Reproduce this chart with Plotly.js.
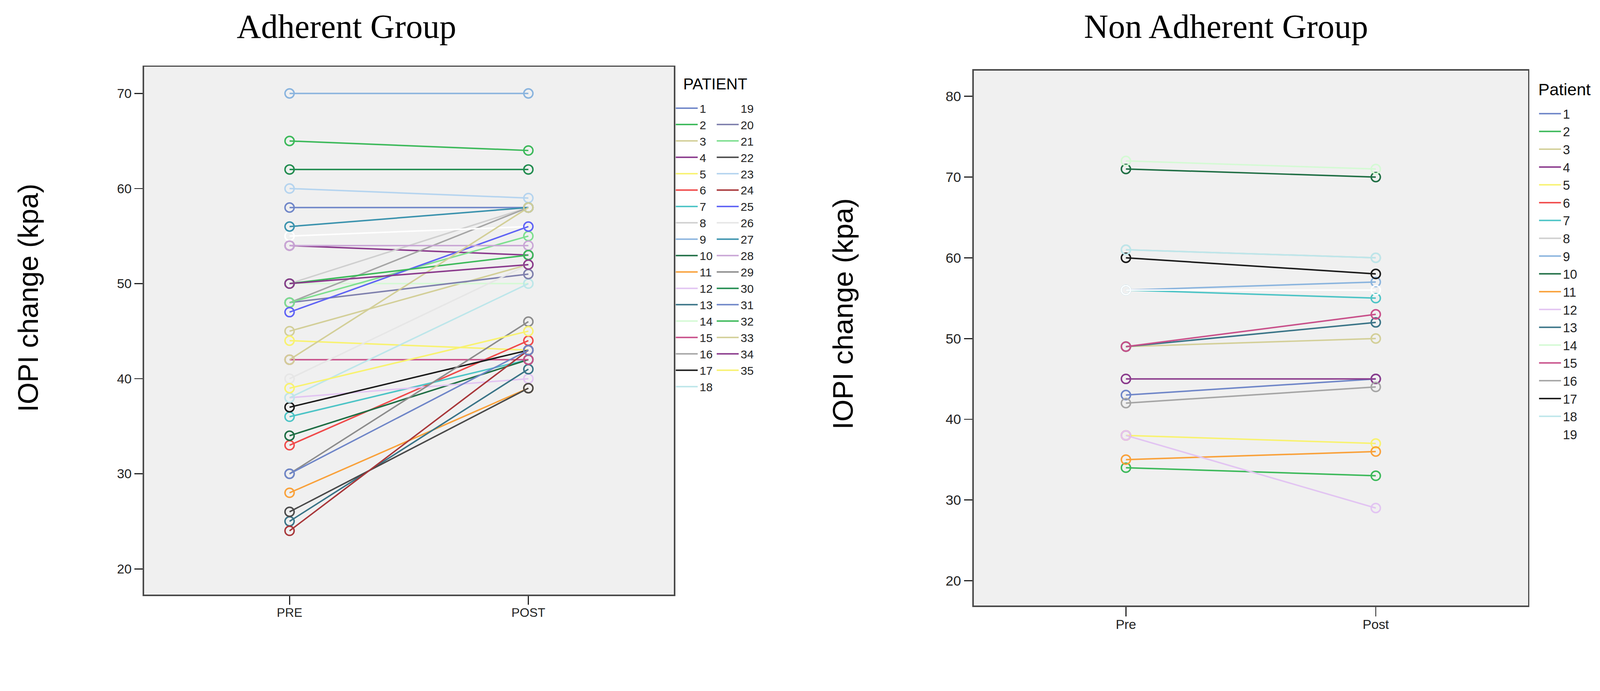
<!DOCTYPE html>
<html>
<head>
<meta charset="utf-8">
<script src="https://cdn.plot.ly/plotly-3.0.1.min.js"></script>
<style>
  html, body { margin: 0; padding: 0; overflow: hidden; background: #ffffff; }
  #chart { position: absolute; left: 0; top: 0; }
</style>
</head>
<body>
<div id="chart"></div>
<script>
// reference size; everything below is laid out on this grid and scaled to the window
var W = 4374, H = 1770;

// x categories of each panel
var adhLabels = ['PRE', 'POST'];
var nonLabels = ['Pre', 'Post'];

// y tick labels
var adhTicks = [20, 30, 40, 50, 60, 70];
var nonTicks = [20, 30, 40, 50, 60, 70, 80];

// adherent group, patients 1..35
var adhPatients = ['1','2','3','4','5','6','7','8','9','10','11','12','13','14','15','16','17','18',
                   '19','20','21','22','23','24','25','26','27','28','29','30','31','32','33','34','35'];
var adhPre  = [58,65,45,54,44,33,36,50,70,34,28,38,25,50,42,48,37,38,55,48,48,26,60,24,47,40,56,54,30,62,30,50,42,50,39];
var adhPost = [58,64,52,53,43,44,42,58,70,42,39,40,41,50,42,58,43,50,56,51,55,39,59,43,56,52,58,54,46,62,43,53,58,52,45];

// non adherent group, patients 1..19
var nonPatients = ['1','2','3','4','5','6','7','8','9','10','11','12','13','14','15','16','17','18','19'];
var nonPre  = [43,34,49,45,38,38,56,61,56,71,35,38,49,72,49,42,60,61,56];
var nonPost = [45,33,50,45,37,null,55,60,57,70,36,29,52,71,53,44,58,60,56];

// spss style colour cycle (30 colours, then it starts again)
var palette = ['#6f86c8','#3cb95a','#d3cf98','#8a3a8c','#f8f270','#f04a4a','#4cc4c6','#cfcfcf','#8ab4de','#1f6e44',
               '#f9a13a','#e2c4f2','#3a7487','#d4fad4','#c8508a','#a5a5a5','#1a1a1a','#bde6ea','#ffffff','#7f80ad',
               '#7ddf8f','#4a4a4a','#b5d4ef','#a8373a','#5f63f5','#e6e6e6','#3a92ad','#c9a6d6','#8c8c8c','#218c4f'];

var sans = 'Liberation Sans, Arial, sans-serif';
var serif = 'Liberation Serif, Times New Roman, serif';

// the window may be smaller in css pixels than the reference, so scale sizes
var vw = window.innerWidth || W;
var vh = window.innerHeight || H;
var s = Math.min(vw / W, vh / H);
function px(v) { return v * s; }

var lines = [];
var markers = [];

function addGroup(names, pre, post, cats, xa, ya, legendFor)
{
        for (var i = 0; i < names.length; i++)
        {
                var col = palette[i % 30];
                lines.push({
                        x: cats, y: [pre[i], post[i]],
                        xaxis: xa, yaxis: ya,
                        mode: 'lines', type: 'scatter',
                        name: names[i],
                        legend: legendFor(i),
                        line: {color: col, width: px(4)},
                        hoverinfo: 'skip'
                });
                markers.push({
                        x: cats, y: [pre[i], post[i]],
                        xaxis: xa, yaxis: ya,
                        mode: 'markers', type: 'scatter',
                        showlegend: false,
                        marker: {symbol: 'circle-open', size: px(25), color: col, line: {width: px(4), color: col}},
                        hoverinfo: 'skip'
                });
        }
}

// left chart uses two legend columns, 1-18 and 19-35
addGroup(adhPatients, adhPre, adhPost, adhLabels, 'x', 'y', function (i) { return i < 18 ? 'legend' : 'legend2'; });
addGroup(nonPatients, nonPre, nonPost, nonLabels, 'x2', 'y2', function (i) { return 'legend3'; });

var data = lines.concat(markers);

function axis(extra)
{
        var a = {
                showgrid: false, zeroline: false,
                showline: true, mirror: true, linecolor: '#4a4a4a', linewidth: px(4),
                ticks: 'outside', tickcolor: '#222222', tickwidth: px(3),
                fixedrange: true
        };
        for (var k in extra) a[k] = extra[k];
        return a;
}

function legend(extra)
{
        var l = {
                xanchor: 'left', yanchor: 'top',
                bgcolor: 'rgba(0,0,0,0)', borderwidth: 0,
                traceorder: 'normal', itemwidth: Math.max(30, px(60)),
                itemclick: false, itemdoubleclick: false
        };
        for (var k in extra) l[k] = extra[k];
        return l;
}

function note(text, x, y, size, family, angle)
{
        return {text: text, xref: 'paper', yref: 'paper', x: x / W, y: 1 - y / H,
                xanchor: 'center', yanchor: 'middle', showarrow: false, textangle: angle || 0,
                font: {family: family, size: px(size), color: '#000000'}};
}

var layout = {
        width: W * s, height: H * s,
        margin: {l: 0, r: 0, t: 0, b: 0, autoexpand: false},
        paper_bgcolor: '#ffffff',
        plot_bgcolor: '#f0f0f0',
        showlegend: true,
        xaxis: axis({
                domain: [394 / W, 1842 / W], anchor: 'y',
                type: 'category', range: [-0.609, 1.609], ticklen: px(24),
                ticklabelstandoff: Math.round(-px(9)),
                tickfont: {family: sans, size: px(34), color: '#222222'}
        }),
        yaxis: axis({
                domain: [1 - 1626 / H, 1 - 183 / H], anchor: 'x',
                range: [17.29, 72.79], tickvals: adhTicks, ticklen: px(23),
                tickfont: {family: sans, size: px(36), color: '#222222'}
        }),
        xaxis2: axis({
                domain: [2662 / W, 4177 / W], anchor: 'y2',
                type: 'category', range: [-0.609, 1.609], ticklen: px(26),
                ticklabelstandoff: Math.round(-px(10)),
                tickfont: {family: sans, size: px(36), color: '#222222'}
        }),
        yaxis2: axis({
                domain: [1 - 1656 / H, 1 - 193 / H], anchor: 'x2',
                range: [16.92, 83.19], tickvals: nonTicks, ticklen: px(23),
                tickfont: {family: sans, size: px(38), color: '#222222'}
        }),
        legend: legend({
                x: 1842 / W, y: 1 - 268 / H,
                font: {family: sans, size: px(32), color: '#222222'}
        }),
        legend2: legend({
                x: 1954 / W, y: 1 - 268 / H,
                font: {family: sans, size: px(32), color: '#222222'}
        }),
        legend3: legend({
                x: 4202 / W, y: 1 - 281 / H,
                font: {family: sans, size: px(35), color: '#222222'}
        }),
        annotations: [
                note('Adherent Group', 947, 73, 92, serif),
                note('Non Adherent Group', 3352, 73, 92, serif),
                note('IOPI change (kpa)', 77, 815, 77, sans, -90),
                note('IOPI change (kpa)', 2304, 858, 78, sans, -90),
                note('PATIENT', 1955, 230, 43, sans),
                note('Patient', 4277, 245, 46, sans)
        ]
};

Plotly.newPlot('chart', data, layout, {staticPlot: true, displayModeBar: false});
</script>
</body>
</html>
